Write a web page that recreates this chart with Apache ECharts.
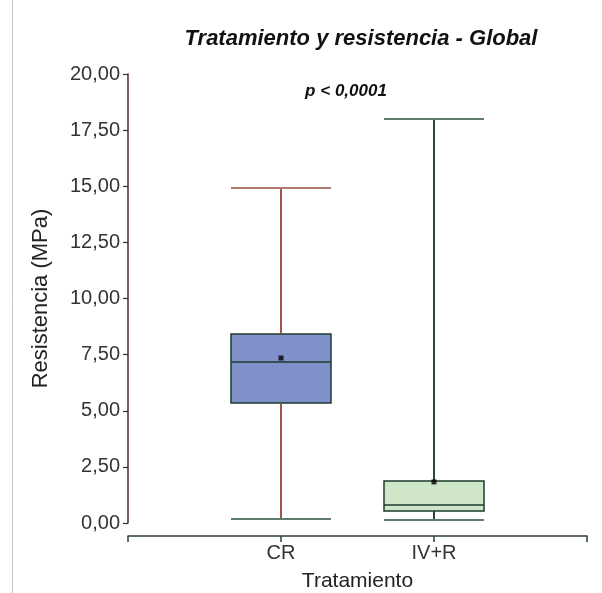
<!DOCTYPE html>
<html>
<head>
<meta charset="utf-8">
<script src="https://cdn.jsdelivr.net/npm/echarts@6/dist/echarts.min.js"></script>
<style>
  html, body { margin: 0; padding: 0; background: #fff; }
  #chart { width: 602px; height: 593px; }
</style>
</head>
<body>
<div id="chart"></div>
<script>
// categorías (los extremos vacíos dan los ticks de los bordes del eje)
const categories = ['', 'CR', 'IV+R', ''];
// [min, Q1, mediana, Q3, max]
const boxCR = [0.18, 5.35, 7.17, 8.42, 14.92];
const boxIVR = [0.13, 0.53, 0.80, 1.87, 18.0];
// medias
const meanCR = 7.35;
const meanIVR = 1.83;
const pText = 'p < 0,0001';

const empty = ['-', '-', '-', '-', '-'];
const boxColors = ['#8090c8', '#d0e6c8'];
const whiskerColors = ['#b8503a', '#1e3a32'];

const chart = echarts.init(document.getElementById('chart'));

const fmt = v => v.toFixed(2).replace('.', ',');

const option = {
  animation: false,
  textStyle: { fontFamily: 'Liberation Sans, Arial, sans-serif' },
  title: [
    {
      text: 'Tratamiento y resistencia - Global',
      left: 356, top: 23, textAlign: 'center',
      textStyle: { fontSize: 22, fontWeight: 'bold', fontStyle: 'italic', color: '#111' }
    },
    {
      text: pText,
      left: 341, top: 78, textAlign: 'center',
      textStyle: { fontSize: 17, fontWeight: 'bold', fontStyle: 'italic', color: '#111' }
    }
  ],
  graphic: [
    { type: 'line', shape: { x1: 12.5, y1: 0, x2: 12.5, y2: 593 }, style: { stroke: '#c4c4c4', lineWidth: 1 } }
  ],
  grid: { left: 128, right: 15, top: 74, bottom: 70, outerBoundsMode: 'none' },
  xAxis: {
    type: 'category',
    data: categories,
    boundaryGap: false,
    offset: 13,
    name: 'Tratamiento',
    nameLocation: 'middle',
    nameGap: 35,
    nameTextStyle: { fontSize: 21, color: '#222' },
    axisLine: { onZero: false, lineStyle: { color: '#2f4038', width: 1.5 } },
    axisTick: { length: 6, lineStyle: { color: '#2f4038', width: 1.5 }, alignWithLabel: true, interval: 0 },
    axisLabel: { fontSize: 20, color: '#333', margin: 7, interval: 0 },
    splitLine: { show: false }
  },
  yAxis: {
    type: 'value',
    min: 0,
    max: 20,
    interval: 2.5,
    name: 'Resistencia (MPa)',
    nameLocation: 'middle',
    nameGap: 76,
    nameTextStyle: { fontSize: 22, color: '#222' },
    axisLine: { show: true, onZero: false, lineStyle: { color: '#4a2a24', width: 1.5 } },
    axisTick: { show: true, length: 5, lineStyle: { color: '#333', width: 1.2 } },
    axisLabel: { fontSize: 20, color: '#333', margin: 8, formatter: fmt },
    splitLine: { show: false }
  },
  series: [
    {
      type: 'boxplot',
      boxWidth: [100, 100],
      z: 2,
      data: [
        empty,
        { value: boxCR, itemStyle: { color: boxColors[0], borderColor: '#1d3b2e', borderWidth: 1.5 } },
        { value: boxIVR, itemStyle: { color: boxColors[1], borderColor: '#1d3b2e', borderWidth: 1.5 } },
        empty
      ]
    },
    {
      // bigotes y topes con su color propio
      type: 'custom',
      z: 3,
      silent: true,
      data: [
        ['CR', boxCR[0], boxCR[1], boxCR[3], boxCR[4], 0],
        ['IV+R', boxIVR[0], boxIVR[1], boxIVR[3], boxIVR[4], 1]
      ],
      renderItem: function (params, api) {
        const c = api.value(0);
        const pMin = api.coord([c, api.value(1)]);
        const pQ1 = api.coord([c, api.value(2)]);
        const pQ3 = api.coord([c, api.value(3)]);
        const pMax = api.coord([c, api.value(4)]);
        const i = api.value(5);
        const half = 50;
        const wc = whiskerColors[i];
        const capTop = i === 0 ? '#b07a70' : '#5f7d6a';
        return {
          type: 'group',
          children: [
            { type: 'line', shape: { x1: pMax[0], y1: pMax[1], x2: pQ3[0], y2: pQ3[1] }, style: { stroke: wc, lineWidth: 1.5 } },
            { type: 'line', shape: { x1: pQ1[0], y1: pQ1[1], x2: pMin[0], y2: pMin[1] }, style: { stroke: wc, lineWidth: 1.5 } },
            { type: 'line', shape: { x1: pMax[0] - half, y1: pMax[1], x2: pMax[0] + half, y2: pMax[1] }, style: { stroke: capTop, lineWidth: 2 } },
            { type: 'line', shape: { x1: pMin[0] - half, y1: pMin[1], x2: pMin[0] + half, y2: pMin[1] }, style: { stroke: '#5f7d6a', lineWidth: 2 } }
          ]
        };
      }
    },
    {
      type: 'scatter',
      symbol: 'rect',
      symbolSize: 5,
      z: 4,
      itemStyle: { color: '#000' },
      data: [['CR', meanCR], ['IV+R', meanIVR]]
    }
  ]
};

chart.setOption(option);
</script>
</body>
</html>
